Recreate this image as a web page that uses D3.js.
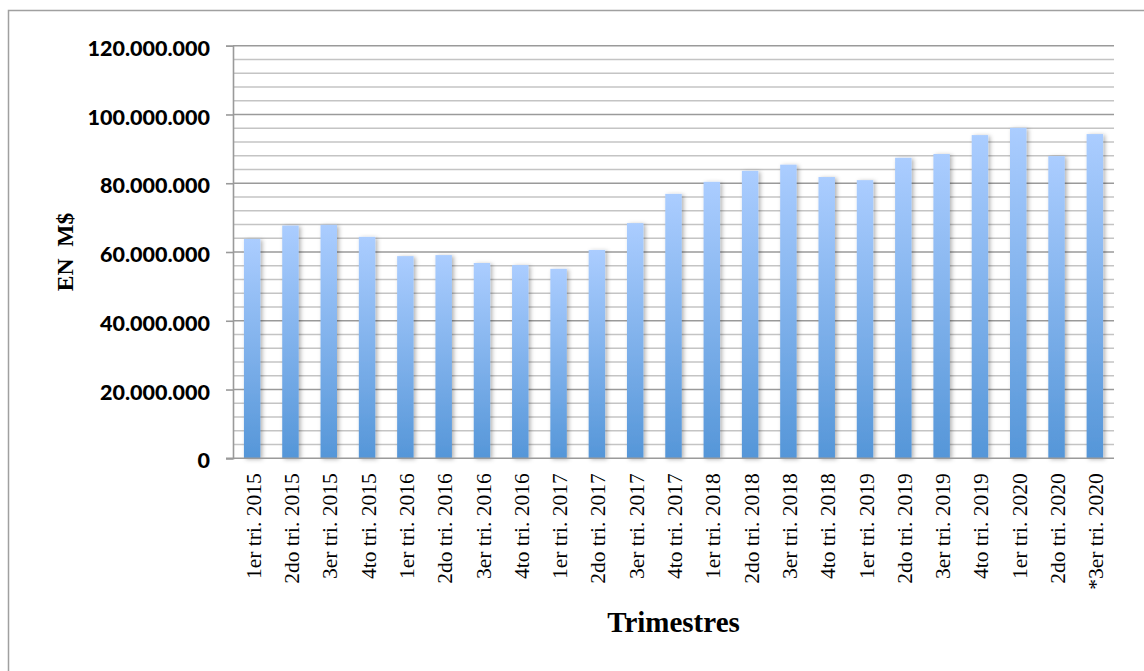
<!DOCTYPE html>
<html>
<head>
<meta charset="utf-8">
<script src="https://cdn.jsdelivr.net/npm/d3@7"></script>
<style>
  html, body { margin: 0; padding: 0; background: #ffffff; }
  svg { display: block; }
</style>
</head>
<body>
<svg id="chart" width="1144" height="671"></svg>
<script>
const categories = [
  "1er tri. 2015", "2do tri. 2015", "3er tri. 2015", "4to tri. 2015",
  "1er tri. 2016", "2do tri. 2016", "3er tri. 2016", "4to tri. 2016",
  "1er tri. 2017", "2do tri. 2017", "3er tri. 2017", "4to tri. 2017",
  "1er tri. 2018", "2do tri. 2018", "3er tri. 2018", "4to tri. 2018",
  "1er tri. 2019", "2do tri. 2019", "3er tri. 2019", "4to tri. 2019",
  "1er tri. 2020", "2do tri. 2020", "*3er tri. 2020"
];
const values = [
  63800000, 67700000, 67900000, 64400000,
  58800000, 59100000, 56800000, 56200000,
  55100000, 60600000, 68400000, 76900000,
  80400000, 83600000, 85400000, 81800000,
  80900000, 87400000, 88500000, 94000000,
  96100000, 87900000, 94300000
];
const majorTicks = [0, 20000000, 40000000, 60000000, 80000000, 100000000, 120000000];
const minorStep = 4000000;
const yTitle = "EN  M$";
const xTitle = "Trimestres";

const W = 1144, H = 671;
const plot = { left: 233, right: 1114, top: 45.7, bottom: 458.3 };

const svg = d3.select("#chart");
const defs = svg.append("defs");

const grad = defs.append("linearGradient")
  .attr("id", "barGrad").attr("x1", 0).attr("y1", 0).attr("x2", 0).attr("y2", 1);
grad.append("stop").attr("offset", "0%").attr("stop-color", "#abcdff");
grad.append("stop").attr("offset", "100%").attr("stop-color", "#5596d8");

const shadow = defs.append("filter").attr("id", "barShadow")
  .attr("x", "-50%").attr("y", "-10%").attr("width", "200%").attr("height", "120%");
shadow.append("feDropShadow").attr("dx", 2).attr("dy", 1).attr("stdDeviation", 2)
  .attr("flood-color", "#000").attr("flood-opacity", 0.3);

// outer border
svg.append("rect").attr("x", 8.5).attr("y", 10.5).attr("width", W + 20).attr("height", H + 20)
  .attr("fill", "none").attr("stroke", "#a0a0a0").attr("stroke-width", 1.5);

const locale = d3.formatLocale({ decimal: ",", thousands: ".", grouping: [3], currency: ["$", ""] });
const fmt = locale.format(",");

const x = d3.scaleBand().domain(categories).range([plot.left, plot.right])
  .paddingInner(0.57).paddingOuter(0.285);
const y = d3.scaleLinear().domain([0, 120000000]).range([plot.bottom, plot.top]);

// gridlines
const minorTicks = d3.range(0, 120000001, minorStep).filter(v => v % 20000000 !== 0);
svg.append("g").selectAll("line").data(minorTicks).join("line")
  .attr("x1", plot.left).attr("x2", plot.right)
  .attr("y1", d => y(d)).attr("y2", d => y(d))
  .attr("stroke", "#c4c4c4").attr("stroke-width", 1.6);
svg.append("g").selectAll("line").data(majorTicks.filter(v => v > 0)).join("line")
  .attr("x1", plot.left).attr("x2", plot.right)
  .attr("y1", d => y(d)).attr("y2", d => y(d))
  .attr("stroke", "#9a9a9a").attr("stroke-width", 1.6);

// bars
svg.append("g").selectAll("rect").data(values).join("rect")
  .attr("x", (d, i) => x(categories[i]))
  .attr("width", x.bandwidth())
  .attr("y", d => y(d))
  .attr("height", d => y(0) - y(d))
  .attr("fill", "url(#barGrad)")
  .attr("filter", "url(#barShadow)");

// y axis
const yAxis = d3.axisLeft(y).tickValues(majorTicks).tickFormat(fmt).tickSize(7).tickPadding(16);
const gy = svg.append("g").attr("transform", `translate(${plot.left},0)`).call(yAxis);
gy.select(".domain").attr("stroke", "#9a9a9a").attr("stroke-width", 1.6);
gy.selectAll(".tick line").attr("stroke", "#9a9a9a").attr("stroke-width", 1.6);
gy.selectAll(".tick text")
  .attr("font-family", "Lato, 'Open Sans', sans-serif")
  .attr("font-weight", 900).attr("font-size", 21.5).attr("fill", "#000")
  .attr("dy", "0.45em");

// x axis
const xAxis = d3.axisBottom(x).tickSize(0).tickPadding(0);
const gx = svg.append("g").attr("transform", `translate(0,${plot.bottom})`).call(xAxis);
gx.select(".domain").attr("d", `M${plot.left - 7},0H${plot.right}`)
  .attr("stroke", "#9a9a9a").attr("stroke-width", 1.6);
gx.selectAll(".tick text")
  .attr("font-family", "'Liberation Serif', serif")
  .attr("font-size", 21.5).attr("fill", "#000")
  .attr("text-anchor", "end")
  .attr("transform", "rotate(-90)")
  .attr("x", -15).attr("y", 1).attr("dy", "0.35em");

// titles
svg.append("text")
  .attr("transform", `translate(65,252) rotate(-90)`)
  .attr("text-anchor", "middle").attr("dy", "0.35em")
  .attr("font-family", "'Liberation Serif', serif").attr("font-weight", 700)
  .attr("font-size", 23.5).attr("fill", "#000")
  .style("white-space", "pre")
  .text(yTitle);

svg.append("text")
  .attr("x", (plot.left + plot.right) / 2).attr("y", 632)
  .attr("text-anchor", "middle")
  .attr("font-family", "'Liberation Serif', serif").attr("font-weight", 700)
  .attr("font-size", 29).attr("fill", "#000")
  .text(xTitle);
</script>
</body>
</html>
